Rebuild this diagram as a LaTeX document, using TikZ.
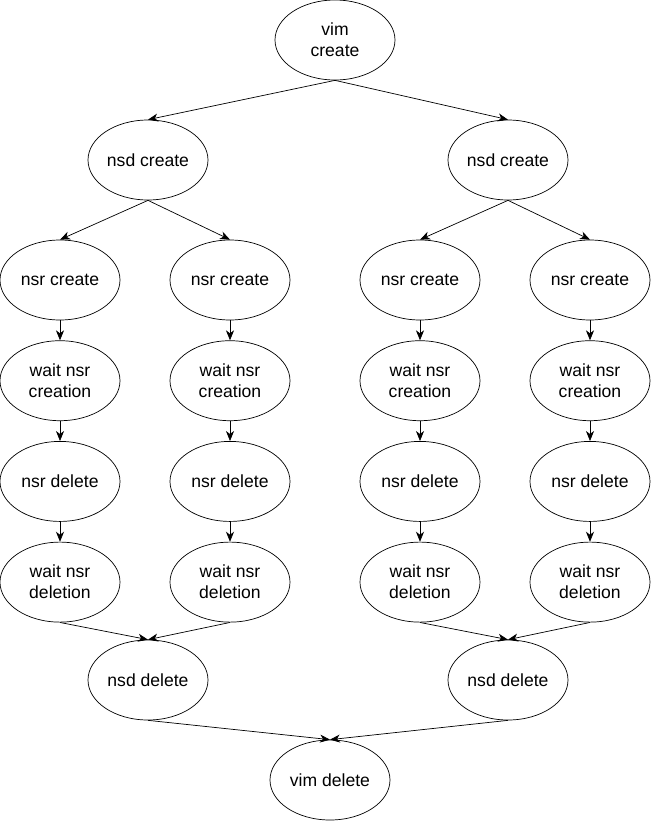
\documentclass[tikz,border=0pt]{standalone}
\usepackage{fontspec}
\setmainfont{Liberation Sans}
\usetikzlibrary{shapes, arrows.meta, positioning}
\tikzset{
    -{Stealth[length=2mm,width=1.6mm,inset=0.6mm]}, node distance =0.4 cm and 1.3 cm, line width=0.5pt,% node distance is the gap between two ellipses in a column
    state/.style ={ellipse, draw, minimum width = 2.4 cm, minimum height = 1.6 cm, inner sep=0pt, align=center, font=\fontsize{10}{12}\selectfont} % every step of the test is an ellipse
}
\begin{document}
\begin{tikzpicture}
    \useasboundingbox (0,0) rectangle (13.04,-16.44);
    % top of the tree
    \node[state] (vc) at (6.7,-0.8) {vim\\create};
    \node[state] (nc1) at (2.96,-3.2) {nsd create};
    \node[state] (nc2) at (10.16,-3.2) {nsd create};

    % four columns of nsr steps
    \node[state] (rc1) at (1.2,-5.6) {nsr create};
    \node[state] (rc2) at (4.6,-5.6) {nsr create};
    \node[state] (rc3) at (8.4,-5.6) {nsr create};
    \node[state] (rc4) at (11.8,-5.6) {nsr create};

    \node[state] (wc1) [below =of rc1] {wait nsr\\creation};
    \node[state] (wc2) [below =of rc2] {wait nsr\\creation};
    \node[state] (wc3) [below =of rc3] {wait nsr\\creation};
    \node[state] (wc4) [below =of rc4] {wait nsr\\creation};

    \node[state] (rd1) [below =of wc1] {nsr delete};
    \node[state] (rd2) [below =of wc2] {nsr delete};
    \node[state] (rd3) [below =of wc3] {nsr delete};
    \node[state] (rd4) [below =of wc4] {nsr delete};

    \node[state] (wd1) [below =of rd1] {wait nsr\\deletion};
    \node[state] (wd2) [below =of rd2] {wait nsr\\deletion};
    \node[state] (wd3) [below =of rd3] {wait nsr\\deletion};
    \node[state] (wd4) [below =of rd4] {wait nsr\\deletion};

    % bottom of the tree
    \node[state] (nd1) at (2.96,-13.6) {nsd delete};
    \node[state] (nd2) at (10.16,-13.6) {nsd delete};
    \node[state] (vd) at (6.6,-15.6) {vim delete};

    % edges
    \draw (vc.south) -- (nc1.north);
    \draw (vc.south) -- (nc2.north);
    \draw (nc1.south) -- (rc1.north);
    \draw (nc1.south) -- (rc2.north);
    \draw (nc2.south) -- (rc3.north);
    \draw (nc2.south) -- (rc4.north);

    \foreach \i in {1,...,4} {
        \draw (rc\i) -- (wc\i);
        \draw (wc\i) -- (rd\i);
        \draw (rd\i) -- (wd\i);
    }

    \draw (wd1.south) -- (nd1.north);
    \draw (wd2.south) -- (nd1.north);
    \draw (wd3.south) -- (nd2.north);
    \draw (wd4.south) -- (nd2.north);
    \draw (nd1.south) -- (vd.north);
    \draw (nd2.south) -- (vd.north);
\end{tikzpicture}
\end{document}
